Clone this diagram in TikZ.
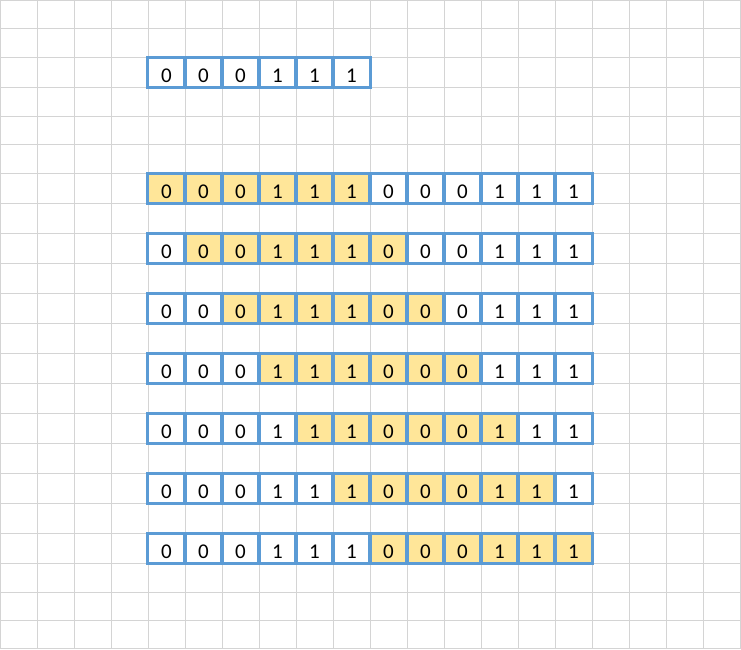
\documentclass[tikz,border=0pt]{standalone}
\usepackage{fontspec}
\setmainfont{Carlito}
\definecolor{gridgray}{HTML}{D4D4D4}
\definecolor{cellblue}{HTML}{5B9BD5}
\definecolor{cellgold}{HTML}{FFE699}
\begin{document}
\begin{tikzpicture}[x=1pt,y=-1pt,
  cell/.style={minimum width=37pt, minimum height=30pt, inner sep=0pt,
    text height=20.5pt, text depth=0pt, font=\fontsize{21}{25}\selectfont, anchor=center},
  border/.style={draw=cellblue, line width=3pt},
  gridline/.style={draw=gridgray, line width=1pt}]
\useasboundingbox (0,0) rectangle (741,649);
\fill[white] (0,0) rectangle (741,649);
% grid
\draw[gridline] (0.5,0) -- (0.5,649);
\foreach \i in {1,...,20} \draw[gridline] ({37*\i},0) -- ({37*\i},649);
\foreach \y in {0.5,28.3,57.3,87.3,116.3,144.3,173.3,203.3,233.3,263.3,293.3,323.3,353.3,383.3,413.3,443.3,473.3,503.3,533.3,563.3,592.3,620.7,648.3}
  \draw[gridline] (0,\y) -- (741,\y);
% top array
\foreach \v [count=\k from 0] in {0,0,0,1,1,1}
  \node[cell, fill=white] (t\k) at ({166.5+37*\k},72.3) {\v};
\foreach \k in {0,...,5}
  \draw[border] (t\k.north west) rectangle (t\k.south east);
% sliding rows
\foreach \r in {0,...,6}{
  \foreach \v [count=\k from 0] in {0,0,0,1,1,1,0,0,0,1,1,1}{
    \ifnum\k<\r \def\f{white}\else
      \ifnum\k>\numexpr\r+5\relax \def\f{white}\else \def\f{cellgold}\fi
    \fi
    \node[cell, fill=\f] (r\r-\k) at ({166.5+37*\k},{188.3+60*\r}) {\v};
  }
}
\foreach \r in {0,...,6}
  \foreach \k in {0,...,11}
    \draw[border] (r\r-\k.north west) rectangle (r\r-\k.south east);
\end{tikzpicture}
\end{document}
